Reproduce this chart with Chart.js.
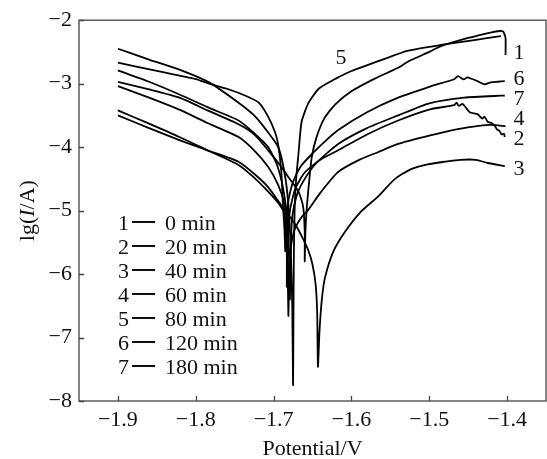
<!DOCTYPE html>
<html><head><meta charset="utf-8">
<script src="https://cdn.jsdelivr.net/npm/chart.js@4"></script>
<style>html,body{margin:0;padding:0;background:#fff}canvas{display:block}</style>
</head><body>
<canvas id="c" width="547" height="459"></canvas>
<script>
// Tick values
const xTicks = [-1.9, -1.8, -1.7, -1.6, -1.5, -1.4];
const yTicks = [-8, -7, -6, -5, -4, -3, -2];
// Series ids and immersion times
const curveIds = ['1', '2', '3', '4', '5', '6', '7'];
const times = ['0 min', '20 min', '40 min', '60 min', '80 min', '120 min', '180 min'];

// Curve 1 (0 min)
const pot1 = [-1.9, -1.86, -1.821, -1.785, -1.745, -1.725, -1.707, -1.692, -1.681, -1.668, -1.662, -1.660, -1.660, -1.659, -1.657, -1.654, -1.651, -1.645, -1.635, -1.621, -1.600, -1.570, -1.540, -1.527, -1.500, -1.485, -1.450, -1.420, -1.410, -1.405, -1.402, -1.402];
const lg1 = [-2.97, -3.09, -3.22, -3.42, -3.64, -3.80, -4.05, -4.28, -4.47, -4.70, -4.94, -5.33, -5.80, -5.30, -4.90, -4.50, -4.16, -3.85, -3.55, -3.33, -3.12, -2.92, -2.75, -2.65, -2.50, -2.41, -2.28, -2.19, -2.17, -2.18, -2.28, -2.55];
// Curve 2 (20 min)
const pot2 = [-1.9, -1.86, -1.821, -1.785, -1.745, -1.725, -1.707, -1.694, -1.686, -1.684, -1.683, -1.683, -1.682, -1.679, -1.672, -1.660, -1.640, -1.617, -1.580, -1.540, -1.498, -1.468, -1.465, -1.462, -1.457, -1.448, -1.438, -1.432, -1.429, -1.425, -1.420, -1.416, -1.413, -1.410, -1.407, -1.404, -1.403];
const lg2 = [-3.42, -3.63, -3.84, -4.05, -4.28, -4.48, -4.70, -4.88, -5.05, -5.35, -5.70, -6.20, -5.50, -5.00, -4.65, -4.40, -4.20, -4.05, -3.80, -3.58, -3.40, -3.34, -3.30, -3.35, -3.32, -3.45, -3.48, -3.55, -3.52, -3.60, -3.62, -3.66, -3.72, -3.74, -3.80, -3.79, -3.84];
// Curve 3 (40 min)
const pot3 = [-1.9, -1.86, -1.821, -1.785, -1.745, -1.725, -1.707, -1.690, -1.672, -1.662, -1.655, -1.650, -1.646, -1.644, -1.643, -1.641, -1.638, -1.634, -1.623, -1.608, -1.588, -1.566, -1.544, -1.524, -1.502, -1.480, -1.460, -1.440, -1.425, -1.403];
const lg3 = [-3.50, -3.70, -3.89, -4.05, -4.23, -4.42, -4.63, -4.92, -5.22, -5.45, -5.64, -5.85, -6.16, -6.60, -7.46, -6.90, -6.40, -6.06, -5.64, -5.33, -5.02, -4.78, -4.50, -4.35, -4.27, -4.23, -4.20, -4.20, -4.25, -4.30];
// Curve 4 (60 min)
const pot4 = [-1.9, -1.86, -1.821, -1.785, -1.745, -1.725, -1.707, -1.694, -1.686, -1.683, -1.682, -1.681, -1.680, -1.678, -1.673, -1.665, -1.655, -1.640, -1.617, -1.590, -1.566, -1.540, -1.500, -1.465, -1.434, -1.420, -1.402];
const lg4 = [-3.04, -3.22, -3.41, -3.62, -3.84, -4.05, -4.31, -4.60, -4.90, -5.20, -5.80, -6.66, -6.00, -5.60, -5.30, -5.12, -4.98, -4.72, -4.39, -4.20, -4.08, -3.95, -3.82, -3.72, -3.66, -3.65, -3.67];
// Curve 5 (80 min)
const pot5 = [-1.9, -1.86, -1.821, -1.783, -1.745, -1.725, -1.710, -1.694, -1.686, -1.681, -1.678, -1.676, -1.675, -1.6745, -1.674, -1.673, -1.671, -1.668, -1.664, -1.655, -1.642, -1.620, -1.600, -1.560, -1.527, -1.485, -1.440, -1.408];
const lg5 = [-2.45, -2.62, -2.78, -2.98, -3.30, -3.50, -3.72, -4.00, -4.40, -4.90, -5.60, -6.50, -7.75, -6.80, -5.80, -5.00, -4.50, -4.10, -3.60, -3.30, -3.08, -2.92, -2.80, -2.62, -2.48, -2.39, -2.31, -2.25];
// Curve 6 (120 min)
const pot6 = [-1.9, -1.85, -1.80, -1.783, -1.760, -1.736, -1.719, -1.707, -1.698, -1.694, -1.690, -1.688, -1.686, -1.685, -1.684, -1.681, -1.675, -1.665, -1.650, -1.635, -1.617, -1.580, -1.540, -1.500, -1.468, -1.463, -1.458, -1.455, -1.451, -1.438, -1.429, -1.421, -1.412, -1.403];
const lg6 = [-2.67, -2.80, -2.93, -3.00, -3.08, -3.19, -3.30, -3.52, -3.77, -3.97, -4.40, -4.90, -5.30, -5.64, -5.20, -4.85, -4.55, -4.30, -4.10, -3.92, -3.73, -3.45, -3.22, -3.05, -2.93, -2.88, -2.92, -2.93, -2.90, -2.96, -3.01, -2.98, -2.97, -2.96];
// Curve 7 (180 min)
const pot7 = [-1.9, -1.86, -1.821, -1.785, -1.745, -1.725, -1.707, -1.695, -1.687, -1.682, -1.680, -1.679, -1.678, -1.676, -1.670, -1.660, -1.645, -1.617, -1.580, -1.540, -1.500, -1.455, -1.408, -1.403];
const lg7 = [-2.79, -2.97, -3.17, -3.37, -3.58, -3.78, -4.00, -4.30, -4.70, -5.20, -5.80, -6.40, -5.60, -5.10, -4.75, -4.50, -4.25, -3.95, -3.70, -3.50, -3.31, -3.22, -3.19, -3.19];

const potentials = [pot1, pot2, pot3, pot4, pot5, pot6, pot7];
const currents = [lg1, lg2, lg3, lg4, lg5, lg6, lg7];

const FONT = '"Liberation Serif", "Times New Roman", serif';
const minus = s => s.replace('-', '\u2212');

const datasets = curveIds.map((id, k) => ({
  label: id,
  data: potentials[k].map((v, i) => ({ x: v, y: currents[k][i] })),
  showLine: true,
  borderColor: '#000',
  borderWidth: 1.8,
  pointRadius: 0,
  tension: 0.2,
  fill: false
}));

const decor = {
  id: 'decor',
  afterDraw(chart) {
    const { ctx, chartArea: a, scales: { x, y } } = chart;
    ctx.save();
    // frame
    ctx.strokeStyle = '#444';
    ctx.lineWidth = 1.3;
    ctx.strokeRect(a.left, a.top, a.right - a.left, a.bottom - a.top);
    // inward ticks
    ctx.beginPath();
    xTicks.forEach(v => { const p = Math.round(x.getPixelForValue(v)) + 0.5; ctx.moveTo(p, a.bottom); ctx.lineTo(p, a.bottom - 5); });
    yTicks.forEach(v => { const p = Math.round(y.getPixelForValue(v)) + 0.5; ctx.moveTo(a.left, p); ctx.lineTo(a.left + 5, p); });
    ctx.stroke();

    ctx.fillStyle = '#111';
    ctx.textBaseline = 'alphabetic';
    // x title
    ctx.font = '22px ' + FONT;
    ctx.textAlign = 'center';
    ctx.fillText('Potential/V', (a.left + a.right) / 2, 455);
    // y title with italic I
    ctx.save();
    ctx.translate(34, (a.top + a.bottom) / 2);
    ctx.rotate(-Math.PI / 2);
    const parts = [['lg(', '22px ' + FONT], ['I', 'italic 22px ' + FONT], ['/A)', '22px ' + FONT]];
    let total = 0;
    parts.forEach(p => { ctx.font = p[1]; total += ctx.measureText(p[0]).width; });
    let cx = -total / 2;
    ctx.textAlign = 'left';
    parts.forEach(p => { ctx.font = p[1]; ctx.fillText(p[0], cx, 0); cx += ctx.measureText(p[0]).width; });
    ctx.restore();

    // legend inside plot
    ctx.font = '22px ' + FONT;
    ctx.textAlign = 'left';
    ctx.lineWidth = 2;
    ctx.strokeStyle = '#111';
    curveIds.forEach((id, i) => {
      const base = 230 + 24 * i;
      ctx.fillText(id, 118, base);
      ctx.beginPath();
      ctx.moveTo(132, base - 8); ctx.lineTo(155, base - 8);
      ctx.stroke();
      ctx.fillText(times[i], 165, base);
    });

    // curve labels
    ctx.textAlign = 'center';
    const endLabels = [['1', 59], ['6', 85], ['7', 105], ['4', 125], ['2', 145], ['3', 175]];
    endLabels.forEach(([t, yy]) => ctx.fillText(t, 519, yy));
    ctx.fillText('5', 341, 64);
    ctx.restore();
  }
};

new Chart(document.getElementById('c'), {
  type: 'scatter',
  data: { datasets },
  options: {
    responsive: false,
    animation: false,
    layout: { padding: { top: 17, right: 1, left: 0, bottom: 0 } },
    plugins: { legend: { display: false }, tooltip: { enabled: false } },
    scales: {
      x: {
        type: 'linear', min: -1.95, max: -1.35,
        grid: { display: false, drawTicks: false },
        border: { display: false },
        afterBuildTicks: s => { s.ticks = xTicks.map(v => ({ value: v })); },
        afterFit: s => { s.height = 58; },
        ticks: { padding: 6, color: '#111', font: { family: FONT, size: 22 }, maxRotation: 0, callback: v => minus(v.toFixed(1)) }
      },
      y: {
        type: 'linear', min: -8, max: -2,
        grid: { display: false, drawTicks: false },
        border: { display: false },
        afterBuildTicks: s => { s.ticks = yTicks.map(v => ({ value: v })); },
        afterFit: s => { s.width = 79; },
        ticks: { padding: 7, color: '#111', font: { family: FONT, size: 22 }, callback: v => minus(String(v)) }
      }
    }
  },
  plugins: [decor]
});
</script>
</body></html>
